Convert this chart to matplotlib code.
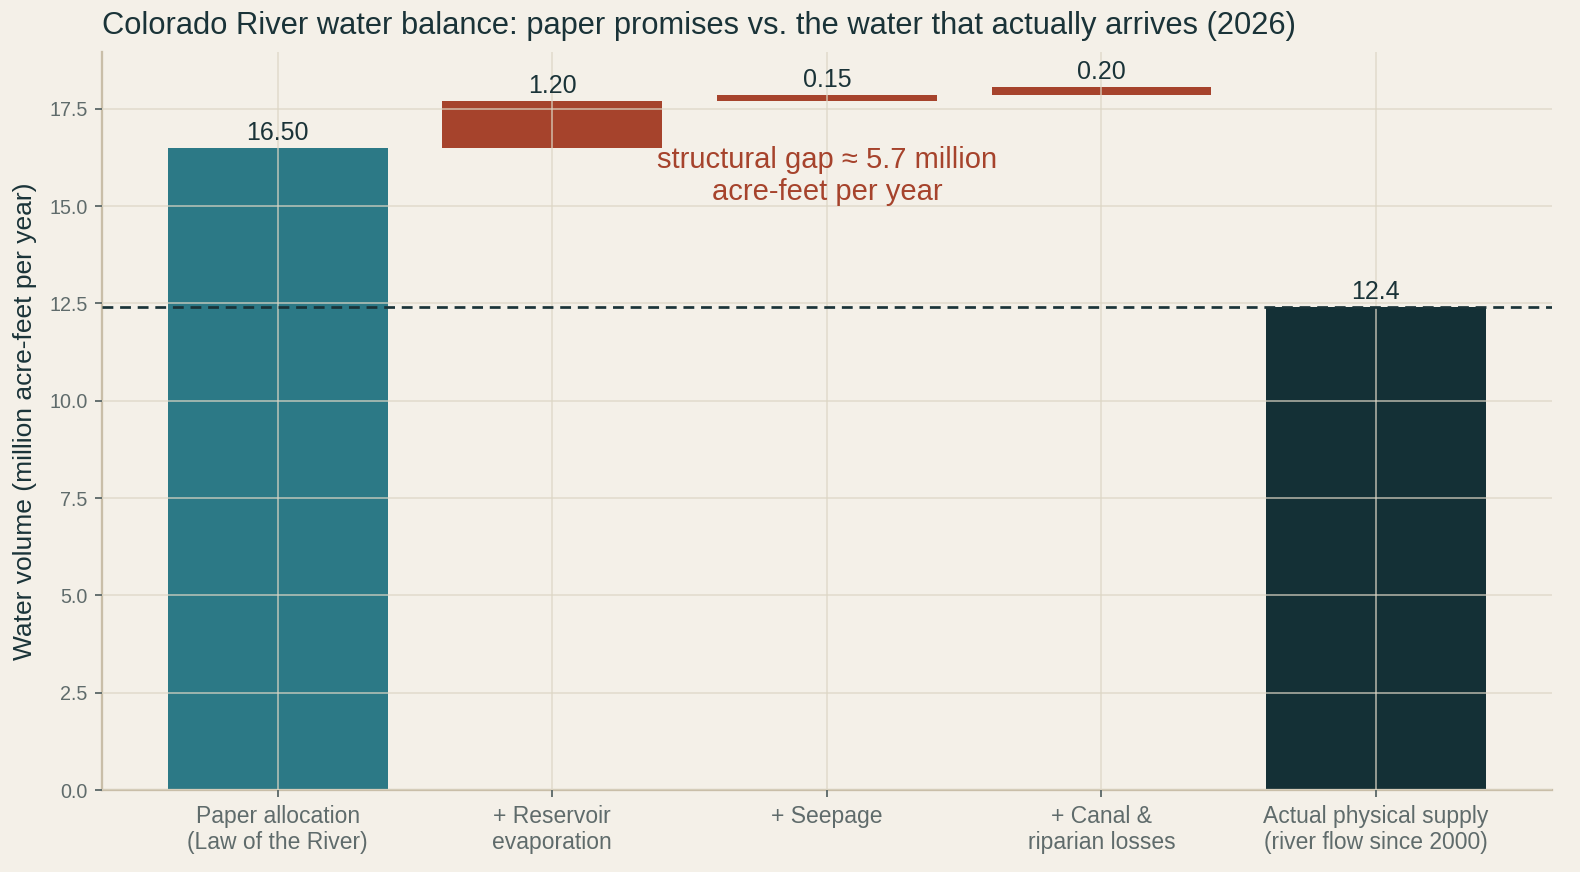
import matplotlib
matplotlib.use("Agg")
import matplotlib.pyplot as plt
import numpy as np

plt.rcParams['font.family'] = ['Liberation Sans', 'DejaVu Sans']

categories = ["Paper allocation\n(Law of the River)", "+ Reservoir\nevaporation", "+ Seepage",
              "+ Canal &\nriparian losses", "Actual physical supply\n(river flow since 2000)"]
paper_allocation = 16.50
losses = [1.20, 0.15, 0.20]
actual_supply = 12.4
gap_text = "structural gap \u2248 5.7 million\nacre-feet per year"

BG = "#f4f0e8"
TEAL = "#2c7986"
RED = "#a6432c"
DARK = "#143036"
TXT = "#1a3338"
GRID = "#ddd6c5"
SPINE = "#c9bea8"
TICK = "#5f6b6b"

fig = plt.figure(figsize=(1580/150, 872/150), dpi=150, facecolor=BG)
ax = fig.add_axes([0.0646, 0.094, 0.9174, 0.846])
ax.set_facecolor(BG)

x = np.arange(len(categories))
# waterfall
bottoms = [0.0]
heights = [paper_allocation]
cum = paper_allocation
for l in losses:
    bottoms.append(cum)
    heights.append(l)
    cum += l
bottoms.append(0.0)
heights.append(actual_supply)
colors = [TEAL, RED, RED, RED, DARK]

bars = ax.bar(x, heights, bottom=bottoms, width=0.8, color=colors, zorder=1)
labels = [f"{paper_allocation:.2f}"] + [f"{l:.2f}" for l in losses] + [f"{actual_supply:.1f}"]
ax.bar_label(bars, labels=labels, padding=1.5, fontsize=12, color=TXT)

ax.axhline(actual_supply, color=TXT, linestyle=(0, (4, 2.5)), linewidth=1.3, zorder=3)

ax.text(2, 15.78, gap_text, ha='center', va='center', fontsize=14, color=RED, zorder=4)

ax.set_ylim(0, 18.95)
ax.set_xlim(-0.64, 4.64)
ax.set_yticks(np.arange(0, 17.6, 2.5))
ax.set_xticks(x)
ax.set_xticklabels(categories)
ax.tick_params(axis='y', labelsize=9.5, colors=TICK, length=3.5, width=0.9)
ax.tick_params(axis='x', labelsize=11, colors=TICK, length=3.5, width=0.9)
for lab in ax.get_xticklabels() + ax.get_yticklabels():
    lab.set_color(TICK)

ax.grid(True, color=GRID, linewidth=0.8, alpha=0.75, zorder=2)
ax.set_axisbelow(False)

for s in ['top', 'right']:
    ax.spines[s].set_visible(False)
for s in ['left', 'bottom']:
    ax.spines[s].set_color(SPINE)
    ax.spines[s].set_linewidth(1.1)

ax.set_ylabel("Water volume (million acre-feet per year)", fontsize=12.7, color=TXT, labelpad=6)
ax.set_title("Colorado River water balance: paper promises vs. the water that actually arrives (2026)",
             loc='left', fontsize=14.8, color=TXT, pad=9)

fig.savefig("out.png", dpi=150, facecolor=BG)
